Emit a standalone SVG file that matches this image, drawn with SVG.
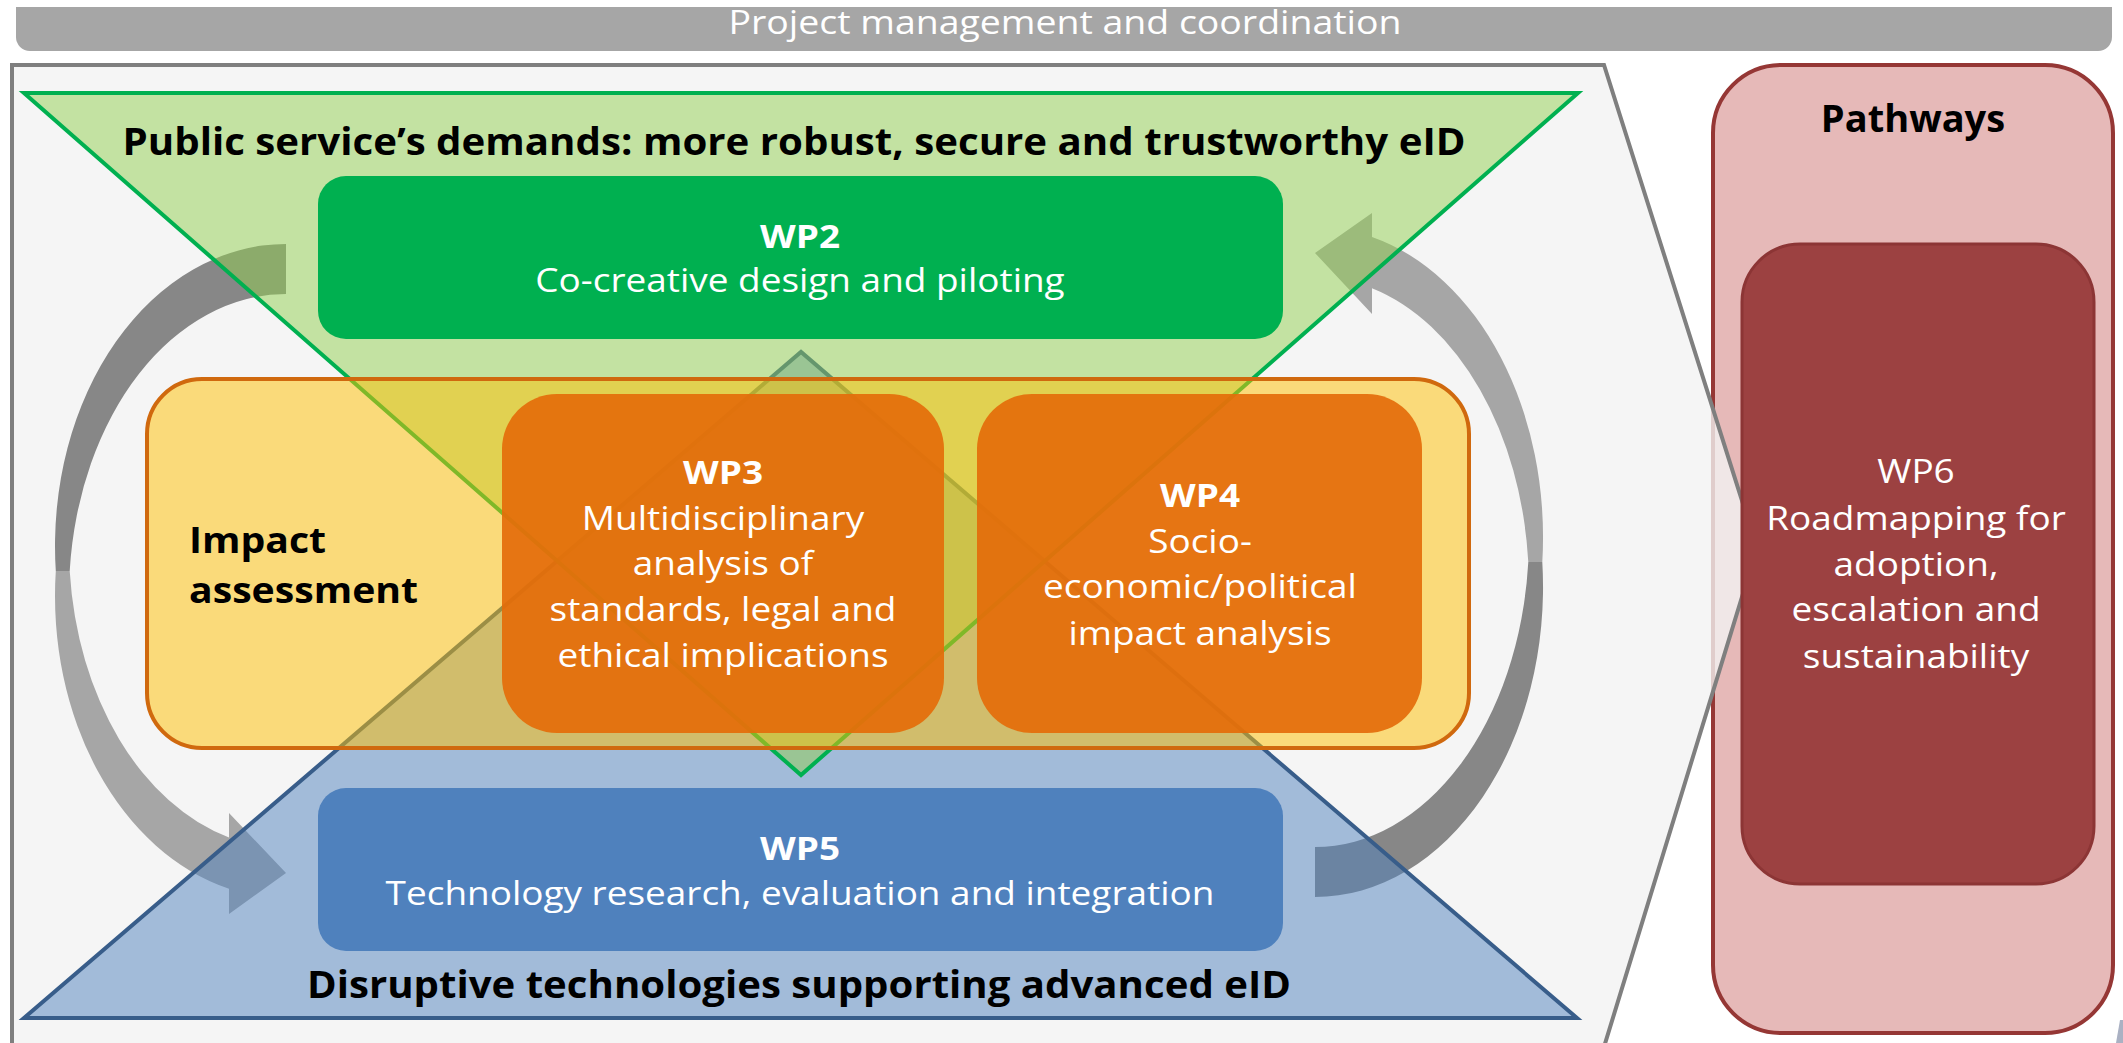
<svg xmlns="http://www.w3.org/2000/svg" width="2123" height="1043" viewBox="0 0 2123 1043">
  <style>
    text { font-family: "Open Sans", "Noto Sans", "DejaVu Sans", sans-serif; }
    .wt { fill: #ffffff; font-size: 33px; text-anchor: middle; }
    .wb { fill: #ffffff; font-size: 33px; font-weight: bold; text-anchor: middle; }
    .title { fill: #000000; font-size: 37px; font-weight: bold; text-anchor: middle; }
    .lbl { fill: #000000; font-size: 35px; font-weight: bold; }
    .dark { fill: #878787; }
    .light { fill: #a6a6a6; }
    .orange { fill: #e46c0a; fill-opacity: 0.92; }
  </style>

  <rect x="0" y="0" width="2123" height="1043" fill="#ffffff"/>

  <g id="top-bar">
    <path d="M16,7 H2112 V37 A14,14 0 0 1 2098,51 H30 A14,14 0 0 1 16,37 Z" fill="#a6a6a6"/>
    <text x="1065" y="34" fill="#ffffff" font-size="32" text-anchor="middle" textLength="673" lengthAdjust="spacingAndGlyphs">Project management and coordination</text>
  </g>

  <g id="pathways">
    <rect x="1713" y="65" width="400" height="968" rx="68" ry="68" fill="#e6b9b8" stroke="#953735" stroke-width="4"/>
    <text x="1913" y="132" font-size="38" font-weight="bold" fill="#000000" text-anchor="middle">Pathways</text>
  </g>

  <g id="panel">
    <polygon points="12,65 1604,65 1757,548 1600,1060 12,1060" fill="#f2f2f2" fill-opacity="0.8" stroke="#7f7f7f" stroke-width="4" stroke-linejoin="miter"/>
  </g>

  <g id="connectors">
    <path class="dark" d="M286,244 A231,302 0 0 0 55.8,571 L69.7,571 A217,302 0 0 1 286,294 Z"/>
    <path class="light" d="M55.8,571 A231,302 0 0 0 229,888.7 L229,914 L286,873 L229,813 L229,837.4 A217,302 0 0 1 69.7,571 Z"/>
    <path class="light" d="M1372,237 A228,310 0 0 1 1542.3,562 L1528.3,562 A214,310 0 0 0 1372,288.2 L1372,314 L1315,253 L1372,213 Z"/>
    <path class="dark" d="M1542.3,562 A228,310 0 0 1 1315,897 L1315,847 A214,310 0 0 0 1528.3,562 Z"/>
  </g>

  <g id="technologies">
    <polygon points="24,1018 1577,1018 801,352" fill="#4f81bd" fill-opacity="0.5" stroke="#385d8a" stroke-width="4" stroke-linejoin="miter"/>
    <text class="title" x="799" y="998" textLength="984" lengthAdjust="spacingAndGlyphs">Disruptive technologies supporting advanced eID</text>
  </g>

  <g id="demands">
    <polygon points="24,93 1578,93 801,775" fill="#92d050" fill-opacity="0.5" stroke="#00b050" stroke-width="4" stroke-linejoin="miter"/>
    <text class="title" x="794" y="155" textLength="1343" lengthAdjust="spacingAndGlyphs">Public service’s demands: more robust, secure and trustworthy eID</text>
  </g>

  <g id="impact">
    <rect x="147" y="379" width="1322" height="369" rx="55" ry="55" fill="#ffc000" fill-opacity="0.5" stroke="#d0690e" stroke-width="4"/>
    <g transform="translate(189 0) scale(1.12 1)">
      <text class="lbl" x="0" y="553">Impact</text>
      <text class="lbl" x="0" y="603">assessment</text>
    </g>
  </g>

  <g id="wp3">
    <rect class="orange" x="502" y="394" width="442" height="339" rx="55" ry="55"/>
    <g transform="translate(723 0) scale(1.12 1)">
      <text class="wb" x="0" y="484">WP3</text>
      <text class="wt" x="0" y="530">Multidisciplinary</text>
      <text class="wt" x="0" y="575">analysis of</text>
      <text class="wt" x="0" y="621">standards, legal and</text>
      <text class="wt" x="0" y="667">ethical implications</text>
    </g>
  </g>

  <g id="wp4">
    <rect class="orange" x="977" y="394" width="445" height="339" rx="55" ry="55"/>
    <g transform="translate(1200 0) scale(1.12 1)">
      <text class="wb" x="0" y="507">WP4</text>
      <text class="wt" x="0" y="553">Socio-</text>
      <text class="wt" x="0" y="598">economic/political</text>
      <text class="wt" x="0" y="645">impact analysis</text>
    </g>
  </g>

  <g id="wp2">
    <rect x="318" y="176" width="965" height="163" rx="28" ry="28" fill="#00b050"/>
    <g transform="translate(800 0) scale(1.12 1)">
      <text class="wb" x="0" y="248">WP2</text>
      <text class="wt" x="0" y="292">Co-creative design and piloting</text>
    </g>
  </g>

  <g id="wp5">
    <rect x="318" y="788" width="965" height="163" rx="28" ry="28" fill="#4f81bd"/>
    <g transform="translate(800 0) scale(1.12 1)">
      <text class="wb" x="0" y="860">WP5</text>
      <text class="wt" x="0" y="905">Technology research, evaluation and integration</text>
    </g>
  </g>

  <g id="wp6">
    <rect x="1742" y="244" width="352" height="640" rx="58" ry="58" fill="#9c4141" stroke="#8c3535" stroke-width="3"/>
    <g transform="translate(1916 0) scale(1.12 1)">
      <text class="wt" x="0" y="483">WP6</text>
      <text class="wt" x="0" y="530">Roadmapping for</text>
      <text class="wt" x="0" y="576">adoption,</text>
      <text class="wt" x="0" y="621">escalation and</text>
      <text class="wt" x="0" y="668">sustainability</text>
    </g>
  </g>

  <polygon points="2116,1043 2120,1020 2123,1020 2123,1043" fill="#aab1c3"/>
</svg>
